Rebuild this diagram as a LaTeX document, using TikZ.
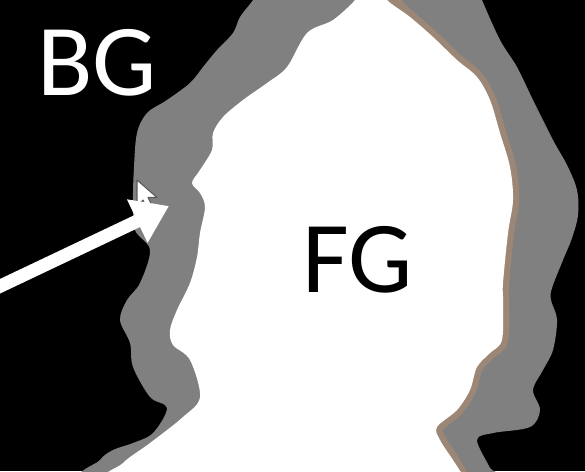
\documentclass[tikz,border=0pt]{standalone}
\usepackage{fontspec}
\setsansfont{Carlito}
\usetikzlibrary{arrows.meta}

\definecolor{bandgray}{RGB}{128,128,128}
\definecolor{edgebrown}{RGB}{176,140,112}

\begin{document}
\begin{tikzpicture}[x=0.02cm, y=-0.02cm,
    regionlabel/.style={font=\sffamily\fontsize{58}{60}\selectfont, inner sep=0pt, anchor=base west},
    pointer/.style={white, line width=7.5pt, -{Triangle[length=20pt, width=26pt]}}]
  \useasboundingbox (0,0) rectangle (585,471);
  \clip (0,0) rectangle (585,471);

  %% --- background (black) ---
  \fill[black] (0,0) rectangle (585,471);

  %% --- unknown band (gray) ---
  \fill[bandgray] plot[smooth cycle, tension=0.55] coordinates {
    (255,-8) (253,0) (240,17) (233,33) (217,50) (203,67) (190,83) (167,100)
    (147,113) (137,133) (134,167) (133,200) (135,230) (150,250) (140,283)
    (127,300) (120,320) (130,343) (133,367) (150,397) (167,408) (153,433)
    (133,443) (113,450) (100,460) (92,480) (300,485) (495,480) (490,468)
    (477,440) (493,433) (530,427) (540,410) (533,390) (543,370) (553,350)
    (557,320) (551,300) (552,288) (563,260) (572,238) (578,215) (577,190)
    (567,165) (553,140) (533,100) (517,67) (500,40) (482,0) (480,-8) (380,-12)};

  %% --- brown fringe along the right edge ---
  \draw[edgebrown, line width=7pt, opacity=0.6, line join=round] plot[smooth, tension=0.55] coordinates {
    (387,-5) (410,17) (433,37) (457,60) (477,77) (490,100) (500,133) (510,167)
    (513,200) (508,233) (503,283) (503,300) (502,340) (490,353) (477,367)
    (470,390) (457,410) (437,427) (440,440) (453,460) (462,476)};

  %% --- foreground (white) ---
  \fill[white] plot[smooth cycle, tension=0.55] coordinates {
    (356,-8) (355,0) (333,20) (307,33) (287,67) (267,83) (243,100) (223,117)
    (213,133) (212,150) (200,170) (192,183) (200,193) (205,207) (200,233)
    (197,257) (190,283) (177,310) (170,330) (173,345) (190,360) (200,397)
    (183,417) (150,443) (123,463) (116,480) (300,485) (464,480) (460,471)
    (453,460) (440,440) (437,427) (457,410) (470,390) (477,367) (490,353)
    (502,340) (503,300) (503,283) (508,233) (513,200) (510,167) (500,133)
    (490,100) (477,77) (457,60) (433,37) (410,17) (387,0) (388,-8)};

  %% --- labels ---
  \node[regionlabel, white] (lblBG) at (37,95) {BG};
  \node[regionlabel, black] (lblFG) at (302,292) {FG};

  %% --- mouse cursor ---
  \filldraw[fill=white, draw=bandgray!70!black, line width=0.6pt, line join=round]
    (137,180) -- ++(0,26) -- ++(6,-6) -- ++(5,10) -- ++(5,-2.5) -- ++(-5,-10)
    -- ++(9,0) -- cycle;

  %% --- arrow pointing at the band ---
  \coordinate (arrowStart) at (-10,291);
  \coordinate (arrowTip) at (169,206);
  \draw[pointer] (arrowStart) -- (arrowTip);
\end{tikzpicture}
\end{document}
